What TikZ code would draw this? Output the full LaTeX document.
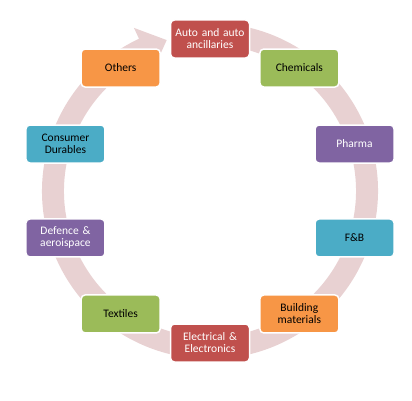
\documentclass[tikz,border=0pt]{standalone}
\usepackage{fontspec}
\setmainfont{Carlito}
\definecolor{cred}{HTML}{C0504D}
\definecolor{cgreen}{HTML}{9BBB59}
\definecolor{cpurple}{HTML}{8064A2}
\definecolor{cteal}{HTML}{4BACC6}
\definecolor{corange}{HTML}{F79646}
\definecolor{carc}{HTML}{E8D1D2}
\begin{document}
\begin{tikzpicture}[x=1pt,y=1pt,
  box/.style={draw=white, line width=1.5pt, rounded corners=4pt, minimum width=79pt, minimum height=38pt,
    inner sep=1pt, align=center, font=\fontsize{11.5}{12}\selectfont, text width=77pt},
  dk/.style={box, text=black},
  lt/.style={box, text=white}]
\useasboundingbox (0,0) rectangle (412,400);
\begin{scope}[shift={(210,209)}]
% circular arrow band
\fill[carc] (80:168) arc[start angle=80, end angle=-245, radius=168]
  -- (-245:180) -- (-254:157) -- (-245:134) -- (-245:146)
  arc[start angle=-245, end angle=80, radius=146] -- cycle;
\node[lt, fill=cred]    (auto)  at (90:152)  {Auto and auto\\ancillaries};
\node[dk, fill=cgreen]  (chem)  at (54:152)  {Chemicals};
\node[lt, fill=cpurple] (pharma) at (18:152) {Pharma};
\node[dk, fill=cteal]   (fb)    at (-18:152) {F\&B};
\node[dk, fill=corange] (build) at (-54:152) {Building\\materials};
\node[lt, fill=cred]    (elec)  at (-90:152) {Electrical \&\\Electronics};
\node[dk, fill=cgreen]  (text)  at (-126:152) {Textiles};
\node[lt, fill=cpurple] (def)   at (-162:152) {Defence \&\\aeroispace};
\node[dk, fill=cteal]   (cons)  at (162:152) {Consumer\\Durables};
\node[dk, fill=corange] (oth)   at (126:152) {Others};
\end{scope}
\end{tikzpicture}
\end{document}
